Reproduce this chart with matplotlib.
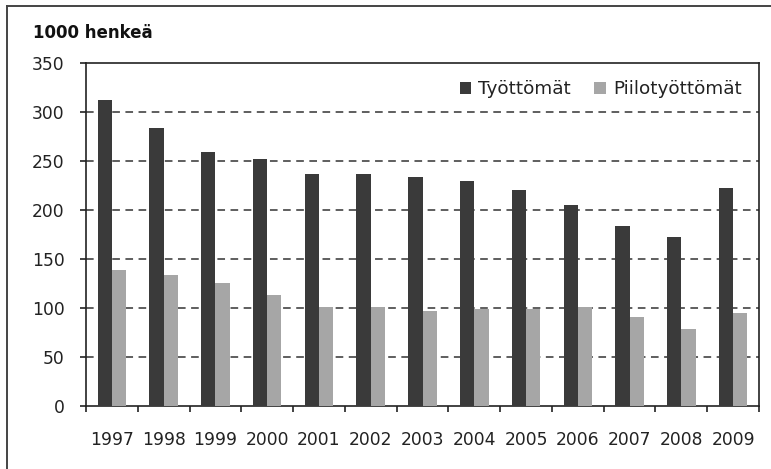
import matplotlib
matplotlib.use("Agg")
import matplotlib.pyplot as plt
import numpy as np
from matplotlib.lines import Line2D

years = ["1997", "1998", "1999", "2000", "2001", "2002", "2003",
         "2004", "2005", "2006", "2007", "2008", "2009"]
tyottomat = [312, 284, 259, 252, 237, 237, 234, 230, 220, 205, 184, 172, 222]
piilotyottomat = [139, 134, 126, 113, 101, 101, 97, 99, 99, 101, 91, 79, 95]

plt.rcParams['font.family'] = ['DejaVu Sans']

fig = plt.figure(figsize=(7.71, 4.69), dpi=100)
ax = fig.add_axes([86/771, 1-406/469, (759-86)/771, (406-63)/469])

x = np.arange(len(years))
w = 0.275
ax.bar(x - w/2, tyottomat, w, color="#3a3a3a", label="Työttömät", zorder=3)
ax.bar(x + w/2, piilotyottomat, w, color="#a6a6a6", label="Piilotyöttömät", zorder=3)

ax.set_xlim(-0.5, len(years) - 0.5)
ax.set_ylim(0, 350)
ax.set_yticks(np.arange(0, 351, 50))
ax.tick_params(axis='y', labelsize=12.3, length=6*0.72, width=1.2, pad=11, colors='#222222')
ax.set_xticks(x)
ax.set_xticklabels(years)
ax.tick_params(axis='x', which='major', length=0, labelsize=12.3, pad=18, colors='#222222')
ax.set_xticks(np.arange(-0.5, len(years), 1), minor=True)
ax.tick_params(axis='x', which='minor', length=6*0.72, width=1.2, color='#222222')

for v in range(50, 301, 50):
    ax.axhline(v, color='#333333', lw=1.1, ls=(0, (5, 3.6)), zorder=1)

for s in ax.spines.values():
    s.set_color('#222222')
    s.set_linewidth(1.2)

leg = ax.legend(loc='upper right', bbox_to_anchor=(1.0, 1.0), ncol=2, frameon=False,
                fontsize=13.2, handlelength=0.65, handleheight=0.65, handletextpad=0.35,
                columnspacing=1.3, borderaxespad=0.55)
for t in leg.get_texts():
    t.set_color('#222222')

fig.text(33/771, 1-33/469, "1000 henkeä", fontsize=12, fontweight='bold',
         va='center', ha='left', color='#111111')

# outer chart border (top and left edges visible)
fig.add_artist(Line2D([7/771, 7/771], [0, 1-6/469], transform=fig.transFigure,
                      color='#444444', lw=1.4))
fig.add_artist(Line2D([7/771, 1], [1-6/469, 1-6/469], transform=fig.transFigure,
                      color='#444444', lw=1.4))

fig.savefig("out.png", dpi=100)
